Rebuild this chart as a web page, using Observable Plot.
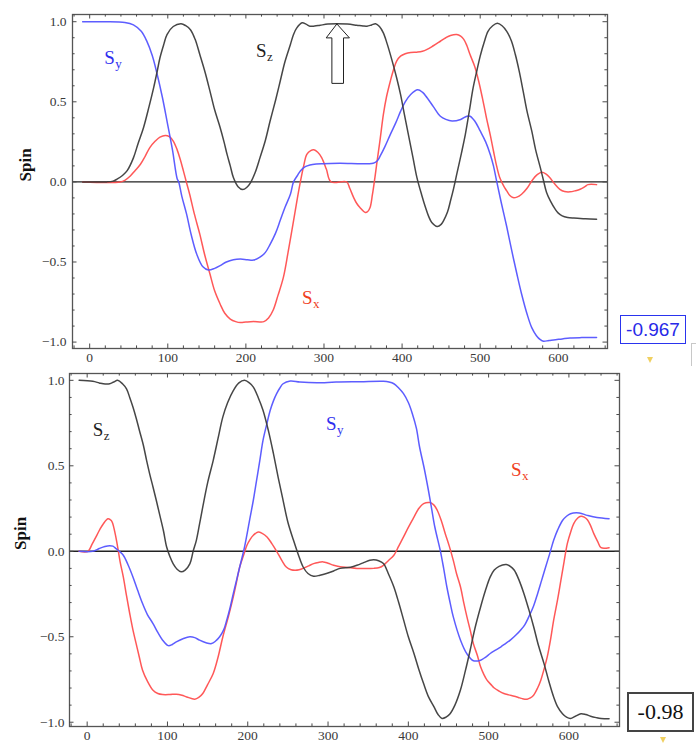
<!DOCTYPE html>
<html><head><meta charset="utf-8">
<script src="https://cdn.jsdelivr.net/npm/d3@7"></script>
<script src="https://cdn.jsdelivr.net/npm/@observablehq/plot@0.6"></script>
<style>
body{margin:0;background:#fff;}
#wrap{position:relative;width:696px;height:744px;overflow:hidden;background:#fff;}
#wrap svg{display:block;}
.box{position:absolute;box-sizing:border-box;display:flex;align-items:center;justify-content:center;background:#fff;}
.tri{position:absolute;width:0;height:0;border-left:3.5px solid transparent;border-right:3.5px solid transparent;border-top:6px solid #f0d060;}
</style></head>
<body><div id="wrap"></div>
<script>
// ---------- data: [time, spin] ----------
const topSx = [[-9,0],[39,0],[45,0.01],[52,0.037],[58,0.07],[65,0.11],[71,0.16],[77,0.214],[84,0.255],[90,0.28],[97,0.29],[102,0.282],[107,0.255],[112,0.2],[116,0.14],[120,0.069],[124,-0.005],[128,-0.077],[134,-0.2],[141,-0.326],[147,-0.45],[154,-0.575],[160,-0.68],[167,-0.762],[173,-0.82],[180,-0.856],[187,-0.872],[193,-0.878],[200,-0.875],[210,-0.872],[218,-0.874],[223,-0.872],[229,-0.85],[235,-0.8],[241,-0.71],[248,-0.596],[254,-0.44],[261,-0.243],[266,-0.1],[270,0.006],[274,0.1],[278,0.172],[283,0.195],[287,0.2],[292,0.185],[297,0.152],[303,0.08],[309,0],[329,0],[333,-0.04],[338,-0.098],[342,-0.135],[346,-0.16],[353,-0.191],[356,-0.185],[359,-0.16],[362,-0.08],[365,0.02],[368,0.13],[372,0.27],[376,0.42],[380,0.53],[385,0.63],[389,0.7],[393,0.754],[398,0.785],[404,0.8],[411,0.808],[419,0.81],[426,0.815],[432,0.827],[440,0.85],[449,0.878],[456,0.9],[462,0.914],[470,0.92],[475,0.91],[479,0.89],[483,0.85],[487,0.795],[493,0.72],[498,0.63],[503,0.52],[508,0.4],[513,0.29],[517,0.193],[521,0.1],[525,0.027],[530,-0.025],[534,-0.056],[538,-0.085],[542,-0.098],[547,-0.095],[553,-0.077],[560,-0.04],[566,0.006],[573,0.045],[579,0.06],[584,0.05],[589,0.027],[595,-0.01],[602,-0.046],[608,-0.06],[615,-0.062],[622,-0.055],[628,-0.046],[634,-0.03],[638,-0.017],[649,-0.017]];
const topSy = [[-9,1],[20,1],[45,0.995],[56,0.98],[66,0.94],[73,0.88],[80,0.79],[86,0.68],[93,0.53],[99,0.38],[106,0.2],[112,0.02],[114,0],[118,-0.09],[124,-0.2],[130,-0.33],[137,-0.45],[145,-0.53],[152,-0.55],[160,-0.54],[167,-0.523],[175,-0.5],[184,-0.486],[193,-0.482],[202,-0.486],[210,-0.488],[218,-0.47],[225,-0.44],[231,-0.39],[238,-0.32],[244,-0.24],[250,-0.16],[257,-0.077],[261,0],[266,0.04],[270,0.07],[276,0.095],[282,0.106],[290,0.112],[299,0.114],[320,0.116],[363,0.117],[368,0.13],[372,0.162],[378,0.22],[385,0.297],[392,0.37],[398,0.44],[404,0.5],[411,0.546],[420,0.575],[426,0.56],[432,0.525],[440,0.47],[449,0.41],[456,0.39],[464,0.38],[475,0.39],[483,0.41],[487,0.41],[493,0.38],[500,0.318],[507,0.25],[513,0.17],[517,0.1],[521,0.006],[527,-0.13],[534,-0.28],[540,-0.42],[547,-0.575],[553,-0.7],[560,-0.825],[566,-0.91],[572,-0.96],[577,-0.985],[581,-0.995],[588,-0.99],[594,-0.987],[605,-0.98],[615,-0.974],[630,-0.972],[649,-0.972]];
const topSz = [[-9,0],[22,0],[30,0.005],[35,0.017],[42,0.04],[48,0.07],[56,0.15],[62,0.24],[69,0.34],[76,0.47],[82,0.59],[86,0.68],[90,0.775],[95,0.86],[99,0.92],[107,0.97],[117,0.987],[123,0.975],[129,0.95],[135,0.89],[141,0.795],[148,0.68],[154,0.567],[160,0.45],[167,0.34],[172,0.25],[176,0.17],[180,0.1],[184,0.027],[190,-0.03],[196,-0.048],[201,-0.035],[206,-0.004],[212,0.06],[218,0.15],[225,0.26],[231,0.38],[238,0.51],[244,0.63],[250,0.75],[257,0.858],[261,0.92],[265,0.96],[272,0.993],[277,0.985],[282,0.972],[288,0.973],[295,0.978],[305,0.985],[316,0.987],[330,0.985],[342,0.978],[350,0.973],[355,0.972],[361,0.98],[366,0.987],[371,0.97],[376,0.93],[381,0.86],[387,0.76],[393,0.65],[398,0.546],[403,0.42],[408,0.297],[414,0.15],[419,0.027],[425,-0.08],[430,-0.16],[434,-0.215],[438,-0.253],[445,-0.278],[450,-0.265],[453,-0.243],[458,-0.19],[462,-0.118],[466,-0.04],[470,0.048],[476,0.18],[481,0.297],[486,0.44],[491,0.588],[496,0.7],[500,0.785],[505,0.87],[510,0.94],[516,0.975],[522,0.99],[528,0.975],[534,0.94],[540,0.88],[545,0.795],[550,0.69],[555,0.567],[560,0.44],[566,0.318],[571,0.2],[577,0.089],[581,0.01],[585,-0.066],[590,-0.12],[596,-0.17],[600,-0.195],[605,-0.212],[612,-0.222],[620,-0.226],[635,-0.23],[649,-0.233]];

const botSx = [[-10,0],[1,0],[6,0.04],[11,0.084],[16,0.13],[20,0.16],[26,0.19],[30,0.18],[32,0.16],[35,0.1],[38,0.025],[41,-0.06],[45,-0.15],[49,-0.26],[53,-0.364],[57,-0.46],[61,-0.54],[65,-0.62],[69,-0.696],[75,-0.76],[82,-0.813],[88,-0.832],[94,-0.838],[103,-0.838],[111,-0.836],[118,-0.842],[124,-0.852],[134,-0.865],[139,-0.855],[144,-0.832],[150,-0.78],[157,-0.715],[163,-0.62],[169,-0.5],[176,-0.38],[182,-0.267],[186,-0.18],[190,-0.092],[195,-0.02],[199,0.035],[203,0.07],[207,0.094],[213,0.113],[218,0.105],[224,0.084],[230,0.045],[236,0],[242,-0.05],[248,-0.092],[254,-0.108],[259,-0.111],[264,-0.108],[269,-0.1],[276,-0.085],[282,-0.072],[288,-0.065],[294,-0.062],[300,-0.07],[307,-0.082],[315,-0.09],[325,-0.095],[336,-0.1],[357,-0.1],[364,-0.095],[369,-0.082],[375,-0.055],[382,-0.023],[388,0.03],[394,0.084],[400,0.14],[407,0.2],[413,0.25],[419,0.279],[427,0.285],[432,0.27],[436,0.24],[441,0.18],[446,0.103],[451,0.03],[456,-0.053],[460,-0.13],[465,-0.209],[469,-0.3],[473,-0.384],[477,-0.46],[481,-0.54],[486,-0.61],[490,-0.676],[494,-0.72],[498,-0.754],[503,-0.78],[507,-0.8],[513,-0.818],[519,-0.832],[525,-0.84],[532,-0.848],[537,-0.855],[542,-0.862],[548,-0.865],[552,-0.858],[556,-0.842],[561,-0.8],[565,-0.754],[569,-0.69],[573,-0.618],[577,-0.52],[581,-0.403],[586,-0.28],[590,-0.17],[594,-0.06],[598,0.045],[602,0.11],[606,0.162],[611,0.195],[615,0.205],[619,0.2],[623,0.185],[627,0.15],[631,0.103],[636,0.055],[640,0.021],[650,0.021]];
const botSy = [[-10,0],[7,0],[15,0.016],[22,0.028],[28,0.033],[32,0.03],[36,0.016],[40,0],[45,-0.023],[51,-0.08],[57,-0.15],[63,-0.23],[69,-0.306],[75,-0.37],[82,-0.423],[88,-0.475],[94,-0.52],[101,-0.552],[106,-0.545],[111,-0.53],[120,-0.51],[128,-0.5],[134,-0.505],[140,-0.52],[148,-0.535],[155,-0.54],[160,-0.525],[165,-0.5],[170,-0.46],[174,-0.4],[178,-0.33],[182,-0.248],[186,-0.17],[190,-0.092],[196,0.025],[203,0.2],[207,0.3],[211,0.415],[215,0.53],[219,0.649],[224,0.75],[228,0.825],[232,0.88],[236,0.922],[240,0.955],[244,0.98],[253,0.996],[265,0.99],[286,0.986],[310,0.99],[340,0.992],[369,0.994],[376,0.99],[382,0.98],[388,0.955],[394,0.922],[400,0.87],[405,0.805],[410,0.72],[414,0.61],[420,0.48],[425,0.357],[429,0.25],[433,0.142],[440,0],[444,-0.1],[448,-0.209],[452,-0.3],[456,-0.384],[465,-0.52],[473,-0.6],[481,-0.64],[490,-0.637],[496,-0.62],[502,-0.598],[508,-0.58],[515,-0.56],[521,-0.54],[527,-0.52],[534,-0.49],[540,-0.46],[545,-0.43],[550,-0.384],[556,-0.32],[561,-0.248],[566,-0.17],[571,-0.092],[576,-0.015],[581,0.064],[586,0.125],[592,0.18],[597,0.205],[602,0.22],[613,0.224],[623,0.21],[635,0.197],[650,0.19]];
const botSz = [[-10,1],[7,0.994],[15,0.985],[20,0.98],[28,0.98],[33,0.99],[38,1],[44,0.98],[49,0.95],[53,0.9],[57,0.844],[61,0.78],[65,0.708],[70,0.62],[74,0.532],[78,0.45],[82,0.376],[86,0.3],[90,0.22],[95,0.12],[99,0.025],[103,-0.03],[107,-0.072],[112,-0.105],[117,-0.12],[122,-0.11],[128,-0.072],[132,0],[136,0.064],[140,0.16],[144,0.26],[150,0.4],[157,0.532],[163,0.66],[169,0.786],[175,0.87],[182,0.94],[189,0.985],[196,1],[202,0.985],[207,0.96],[213,0.9],[219,0.825],[226,0.7],[232,0.571],[238,0.43],[244,0.298],[250,0.17],[257,0.064],[263,-0.02],[269,-0.092],[275,-0.13],[282,-0.146],[290,-0.14],[298,-0.13],[307,-0.115],[315,-0.1],[328,-0.093],[336,-0.082],[345,-0.065],[352,-0.052],[357,-0.049],[363,-0.055],[369,-0.072],[375,-0.13],[382,-0.209],[388,-0.3],[394,-0.4],[400,-0.5],[407,-0.598],[413,-0.69],[419,-0.774],[425,-0.85],[432,-0.91],[437,-0.955],[442,-0.978],[447,-0.97],[452,-0.95],[458,-0.9],[465,-0.81],[471,-0.7],[477,-0.579],[483,-0.45],[490,-0.326],[496,-0.23],[502,-0.15],[507,-0.11],[513,-0.088],[522,-0.078],[527,-0.088],[532,-0.111],[538,-0.17],[544,-0.248],[550,-0.34],[556,-0.44],[562,-0.55],[569,-0.657],[575,-0.76],[581,-0.852],[586,-0.91],[592,-0.95],[597,-0.97],[602,-0.978],[608,-0.965],[615,-0.95],[621,-0.955],[627,-0.965],[634,-0.973],[640,-0.978],[650,-0.98]];

// tick values
const xMajor = [0, 100, 200, 300, 400, 500, 600];
const yMajor = [-1, -0.5, 0, 0.5, 1];
const xMinor = [-20,20,40,60,80,120,140,160,180,220,240,260,280,320,340,360,380,420,440,460,480,520,540,560,580,620,640,660];
const yMinor = [-0.9,-0.8,-0.7,-0.6,-0.4,-0.3,-0.2,-0.1,0.1,0.2,0.3,0.4,0.6,0.7,0.8,0.9];

// curve labels (S with subscript), anchored at left edge of "S"
const topLabelSub = ["y", "z", "x"];
const topLabelT = [18.6, 213, 271.7];
const topLabelV = [0.775, 0.816, -0.726];
const botLabelSub = ["z", "y", "x"];
const botLabelT = [7, 297.5, 528];
const botLabelV = [0.709, 0.747, 0.478];

// hollow arrow annotation in the top panel
const arrowT = [316.5, 332.6, 325, 325, 310.1, 310.1, 302.8, 316.5];
const arrowV = [0.986, 0.899, 0.899, 0.615, 0.615, 0.899, 0.899, 0.986];

// readouts
const topReadout = "-0.967";
const botReadout = "-0.98";

const LINE = {x: "#ff4f4f", y: "#5454ff", z: "#3c3c3c"};
const LAB = {x: "#f0401e", y: "#2f2ff0", z: "#1e1e1e"};
const W = 696;

function panel(cfg) {
  const {series, subs, ts, vs, height, mt, mb, ml, mr, yDomain, spinDx, yPad, arrow} = cfg;
  const innerH = height - mt - mb, innerW = W - ml - mr;
  const tc = "#4a4a4a", maj = 4.5, mnr = 2.6;
  const marks = [Plot.ruleY([0], {stroke: "#222", strokeWidth: 1.4})];
  for (const k of ["x", "y", "z"]) {
    marks.push(Plot.line(series[k], {x: d => d[0], y: d => d[1], stroke: LINE[k], strokeWidth: 1.5, strokeOpacity: 0.95, curve: "catmull-rom"}));
  }
  if (arrow) {
    const pts = arrow.t.map((t, i) => [t, arrow.v[i]]);
    marks.push(Plot.line(pts, {x: d => d[0], y: d => d[1], stroke: "#222", strokeWidth: 1, fill: "white"}));
  }
  subs.forEach((s, i) => {
    const d = [{t: ts[i], v: vs[i]}];
    marks.push(Plot.text(d, {x: "t", y: "v", text: () => "S", fill: LAB[s], fontSize: 19, textAnchor: "start"}));
    marks.push(Plot.text(d, {x: "t", y: "v", text: () => s, fill: LAB[s], fontSize: 13, textAnchor: "start", dx: 11, dy: 6}));
  });
  marks.push(
    Plot.frame({stroke: "#555", strokeWidth: 1.3}),
    Plot.ruleX(xMajor, {stroke: tc, insetTop: innerH - maj}),
    Plot.ruleX(xMajor, {stroke: tc, insetBottom: innerH - maj}),
    Plot.ruleX(xMinor, {stroke: tc, insetTop: innerH - mnr}),
    Plot.ruleX(xMinor, {stroke: tc, insetBottom: innerH - mnr}),
    Plot.ruleY(yMajor, {stroke: tc, insetRight: innerW - maj}),
    Plot.ruleY(yMajor, {stroke: tc, insetLeft: innerW - maj}),
    Plot.ruleY(yMinor, {stroke: tc, insetRight: innerW - mnr}),
    Plot.ruleY(yMinor, {stroke: tc, insetLeft: innerW - mnr}),
    Plot.axisX(xMajor, {tickSize: 0, tickPadding: 4, label: null, fill: "#3a3a3a", fontSize: 13.5}),
    Plot.axisY(yMajor, {tickSize: 0, tickPadding: yPad, label: null, tickFormat: d3.format(".1f"), fill: "#3a3a3a", fontSize: 13.5}),
    Plot.text(["Spin"], {frameAnchor: "left", text: d => d, dx: spinDx, rotate: -90, fontWeight: "bold", fontSize: 17, fill: "#111"})
  );
  return Plot.plot({
    width: W, height, marginTop: mt, marginBottom: mb, marginLeft: ml, marginRight: mr,
    x: {domain: [-22, 663]},
    y: {domain: yDomain},
    style: {fontFamily: "'Liberation Serif', 'Times New Roman', serif", fontSize: "13px", background: "white", color: "#444", overflow: "visible"},
    marks
  });
}

const wrap = document.getElementById("wrap");
wrap.appendChild(panel({
  series: {x: topSx, y: topSy, z: topSz}, subs: topLabelSub, ts: topLabelT, vs: topLabelV,
  height: 366, mt: 14, mb: 18, ml: 72, mr: 89, yDomain: [-1.04, 1.045], spinDx: -47, yPad: 6,
  arrow: {t: arrowT, v: arrowV}
}));
wrap.appendChild(panel({
  series: {x: botSx, y: botSy, z: botSz}, subs: botLabelSub, ts: botLabelT, vs: botLabelV,
  height: 378, mt: 7, mb: 18, ml: 69, mr: 77, yDomain: [-1.025, 1.04], spinDx: -49, yPad: 5
}));

function addBox(text, css) {
  const b = document.createElement("div");
  b.className = "box";
  b.textContent = text;
  Object.assign(b.style, css);
  wrap.appendChild(b);
}
addBox(topReadout, {left: "620px", top: "315px", width: "66px", height: "29px", border: "1.5px solid #2a34ee", color: "#2828e8", fontFamily: "'Liberation Sans', Arial, sans-serif", fontSize: "19px"});
addBox(botReadout, {left: "627px", top: "692px", width: "67px", height: "40px", border: "2px solid #444", color: "#111", fontFamily: "'Liberation Serif', 'Times New Roman', serif", fontSize: "22px"});
const t1 = document.createElement("div"); t1.className = "tri"; Object.assign(t1.style, {left: "647px", top: "357px"}); wrap.appendChild(t1);
const t2 = document.createElement("div"); t2.className = "tri"; Object.assign(t2.style, {left: "660px", top: "737px"}); wrap.appendChild(t2);
const g = document.createElement("div");
Object.assign(g.style, {position: "absolute", left: "691px", top: "343px", width: "10px", height: "22px", borderLeft: "1px solid #c8c8c8", borderTop: "1px solid #c8c8c8"});
wrap.appendChild(g);
</script>
</body></html>
